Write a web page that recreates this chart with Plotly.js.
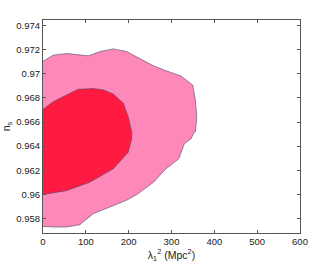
<!DOCTYPE html>
<html><head><meta charset="utf-8">
<script src="https://cdn.plot.ly/plotly-3.0.1.min.js"></script>
<style>html,body{margin:0;padding:0;background:#fff}#plot{width:332px;height:263px}</style>
</head><body><div id="plot"></div>
<script>
// Outer (95%) contour
const outerX = [0, 24, 55, 106, 133, 164, 195, 226, 258, 286, 322, 349.5, 355.7, 359, 356, 353, 345.6, 330, 322, 317, 287, 258, 219, 195, 156, 117.5, 86, 55, 24, 0];
const outerY = [0.97106, 0.97156, 0.97169, 0.9715, 0.97186, 0.97208, 0.97186, 0.9713, 0.97067, 0.97028, 0.96983, 0.96908, 0.96783, 0.96644, 0.96519, 0.96517, 0.96461, 0.9642, 0.9635, 0.96294, 0.96211, 0.961, 0.95997, 0.9595, 0.95894, 0.95839, 0.95747, 0.95728, 0.95728, 0.95733];
// Inner (68%) contour
const innerX = [0, 24, 55, 82, 117.5, 141, 164, 187.5, 199, 207, 207, 199, 164, 109, 55, 16, 0];
const innerY = [0.96706, 0.96769, 0.96825, 0.96872, 0.96878, 0.96867, 0.96833, 0.96756, 0.96644, 0.96519, 0.96461, 0.9635, 0.96211, 0.961, 0.9603, 0.96003, 0.95998];
const xTicks = [0, 100, 200, 300, 400, 500, 600];
const yTicks = [0.958, 0.96, 0.962, 0.964, 0.966, 0.968, 0.97, 0.972, 0.974];
const yTickText = ['0.958', '0.96', '0.962', '0.964', '0.966', '0.968', '0.97', '0.972', '0.974'];

const FONT = 'Liberation Sans, Arial, sans-serif';
const lineStyle = {color: '#4a4a66', width: 0.6};
const data = [
  {x: outerX, y: outerY, type: 'scatter', mode: 'lines', fill: 'toself', fillcolor: '#ff88bb', line: lineStyle, hoverinfo: 'skip'},
  {x: innerX, y: innerY, type: 'scatter', mode: 'lines', fill: 'toself', fillcolor: '#ff1a42', line: lineStyle, hoverinfo: 'skip'}
];
const axisCommon = {
  showgrid: false, zeroline: false, showline: true, linecolor: '#555', linewidth: 1,
  mirror: 'ticks', ticks: 'inside', ticklen: 3, tickcolor: '#555', tickwidth: 1,
  tickfont: {family: FONT, size: 9.5, color: '#222'}
};
const layout = {
  width: 332, height: 263,
  margin: {l: 43, r: 32, t: 20, b: 30},
  paper_bgcolor: '#fff', plot_bgcolor: '#fff',
  showlegend: false,
  xaxis: Object.assign({}, axisCommon, {
    range: [0, 600], tickvals: xTicks, ticktext: xTicks.map(String),
    title: {text: 'λ<sub>1</sub><sup>2</sup> (Mpc<sup>2</sup>)', font: {family: FONT, size: 10.5, color: '#222'}, standoff: 5}
  }),
  yaxis: Object.assign({}, axisCommon, {
    range: [0.95678, 0.97448], tickvals: yTicks, ticktext: yTickText,
    title: {text: 'n<sub>s</sub>', font: {family: FONT, size: 10.5, color: '#222'}, standoff: 4}
  })
};
Plotly.newPlot('plot', data, layout, {staticPlot: true, displayModeBar: false});
</script></body></html>
